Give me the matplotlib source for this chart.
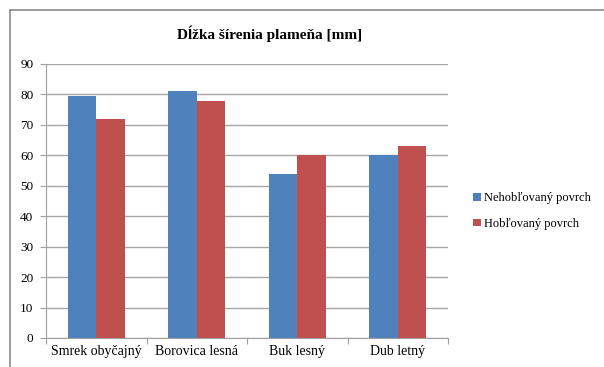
import matplotlib.pyplot as plt
import numpy as np
from matplotlib.lines import Line2D
from matplotlib.patches import Patch

plt.rcParams['font.family'] = ['Liberation Serif', 'DejaVu Serif']

categories = ['Smrek obyčajný', 'Borovica lesná', 'Buk lesný', 'Dub letný']
series_names = ['Nehobľovaný povrch', 'Hobľovaný povrch']
unplaned = [79.5, 81, 54, 60]
planed = [72, 78, 60, 63]
colors = ['#4F81BD', '#C0504D']

W, H = 604, 367
fig = plt.figure(figsize=(W / 100, H / 100), dpi=100)
ax = fig.add_axes([46 / W, (H - 338) / H, (448 - 46) / W, (338 - 64) / H])

x = np.arange(len(categories))
bw = 0.285
ax.bar(x - bw / 2, unplaned, bw, color=colors[0], zorder=3)
ax.bar(x + bw / 2, planed, bw, color=colors[1], zorder=3)

ax.set_xlim(-0.5, len(categories) - 0.5)
ax.set_ylim(0, 90)
ax.set_yticks(np.arange(0, 91, 10))
ax.yaxis.grid(True, color='#a6a6a6', linewidth=1, zorder=0)

# category boundaries get the tick marks, labels sit in the middle
ax.set_xticks(np.arange(-0.5, len(categories)), minor=False)
ax.set_xticklabels([])
ax.set_xticks(x, minor=True)
ax.set_xticklabels(categories, minor=True, fontsize=10)
ax.tick_params(axis='x', which='minor', length=0, pad=5)
ax.tick_params(axis='x', which='major', length=4, color='#a0a0a0')
ax.tick_params(axis='y', length=4, color='#a0a0a0', labelsize=9.5, pad=5)

for side in ['top', 'right']:
    ax.spines[side].set_visible(False)
for side in ['left', 'bottom']:
    ax.spines[side].set_color('#a0a0a0')

fig.text(270 / W, 1 - 34 / H, 'Dĺžka šírenia plameňa [mm]', ha='center', va='center',
         fontsize=11, fontweight='bold')

handles = [Patch(facecolor=c) for c in colors]
fig.legend(handles, series_names, loc='center left', bbox_to_anchor=(462 / W, 1 - 211 / H),
           frameon=False, fontsize=9, handlelength=0.6, handleheight=0.6,
           handletextpad=0.3, labelspacing=1.1)

# outer chart frame
fig.add_artist(Line2D([10 / W, 10 / W], [0, 1 - 10 / H], color='#8a8a8a', linewidth=1.2))
fig.add_artist(Line2D([10 / W, 1], [1 - 10 / H, 1 - 10 / H], color='#8a8a8a', linewidth=1.2))

fig.savefig('out.png', dpi=100)
